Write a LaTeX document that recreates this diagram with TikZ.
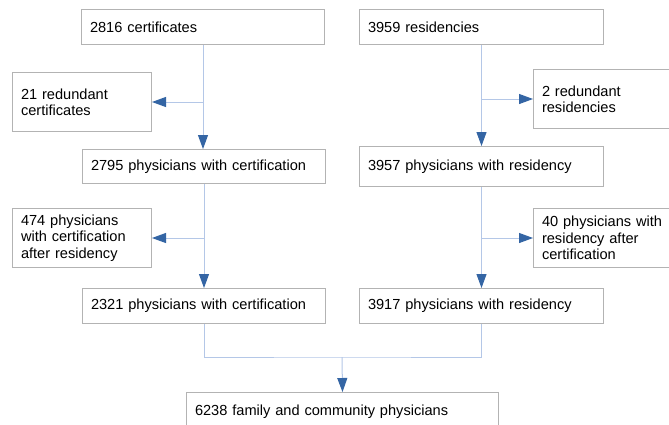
\documentclass[tikz,border=0pt]{standalone}
\usepackage{fontspec}
\setmainfont{Liberation Sans}
\usetikzlibrary{arrows.meta}
\definecolor{boxgray}{HTML}{B3B3B3}
\definecolor{linkblue}{HTML}{B4C7E7}
\definecolor{tipblue}{HTML}{3465A4}
\newcommand{\bodyfont}{\fontsize{14.6}{16.3}\selectfont}
\begin{document}
\begin{tikzpicture}[x=1pt,y=-1pt,
  box/.style={draw=boxgray, line width=1pt, fill=white, inner xsep=8.5pt, inner ysep=0pt,
    align=left, font=\bodyfont, anchor=north west},
  link/.style={draw=linkblue, line width=1pt},
  conn/.style={link, -{Triangle[length=14pt,width=10pt,color=tipblue]}}]
\useasboundingbox (0,0) rectangle (669,424);
\clip (0,0) rectangle (669,424);
\fill[white] (0,0) rectangle (669,424);
% left column
\node[box, text width=226pt, minimum height=35pt] (c1) at (81,9) {2816 certificates};
\node[box, text width=122pt, minimum height=59pt] (cred) at (12,72) {21 redundant\\certificates};
\node[box, text width=226pt, minimum height=34pt] (c2) at (82,149) {2795 physicians with certification};
\node[box, text width=122pt, minimum height=59pt] (c3) at (12,208) {474 physicians\\with certification\\after residency};
\node[box, text width=226pt, minimum height=35pt] (c4) at (82,288) {2321 physicians with certification};
% right column
\node[box, text width=227pt, minimum height=35pt] (r1) at (359,9) {3959 residencies};
\node[box, text width=140pt, minimum height=59pt] (rred) at (533,69) {2 redundant\\residencies};
\node[box, text width=227pt, minimum height=40pt] (r2) at (359,146) {3957 physicians with residency};
\node[box, text width=140pt, minimum height=59pt] (r3) at (533,208) {40 physicians with\\residency after\\certification};
\node[box, text width=227pt, minimum height=35pt] (r4) at (359,288) {3917 physicians with residency};
% bottom
\node[box, text width=295pt, minimum height=38pt] (bot) at (186,392) {6238 family and community physicians};
\coordinate (merge) at (342,357);
% connectors left
\draw[conn] (c1.south) -- (c1.south |- c2.north);
\draw[conn] (c1.south |- cred.east) -- (cred.east);
\draw[conn] (c2.south) -- (c2.south |- c4.north);
\draw[conn] (c2.south |- c3.east) -- (c3.east);
% connectors right
\draw[conn] (r1.south) -- (r1.south |- r2.north);
\draw[conn] (r1.south |- rred.west) -- (rred.west);
\draw[conn] (r2.south) -- (r2.south |- r4.north);
\draw[conn] (r2.south |- r3.west) -- (r3.west);
% merge
\draw[link] (c4.south) |- (merge) -| (r4.south);
\draw[conn] (merge) -- (bot.north);
\end{tikzpicture}
\end{document}
